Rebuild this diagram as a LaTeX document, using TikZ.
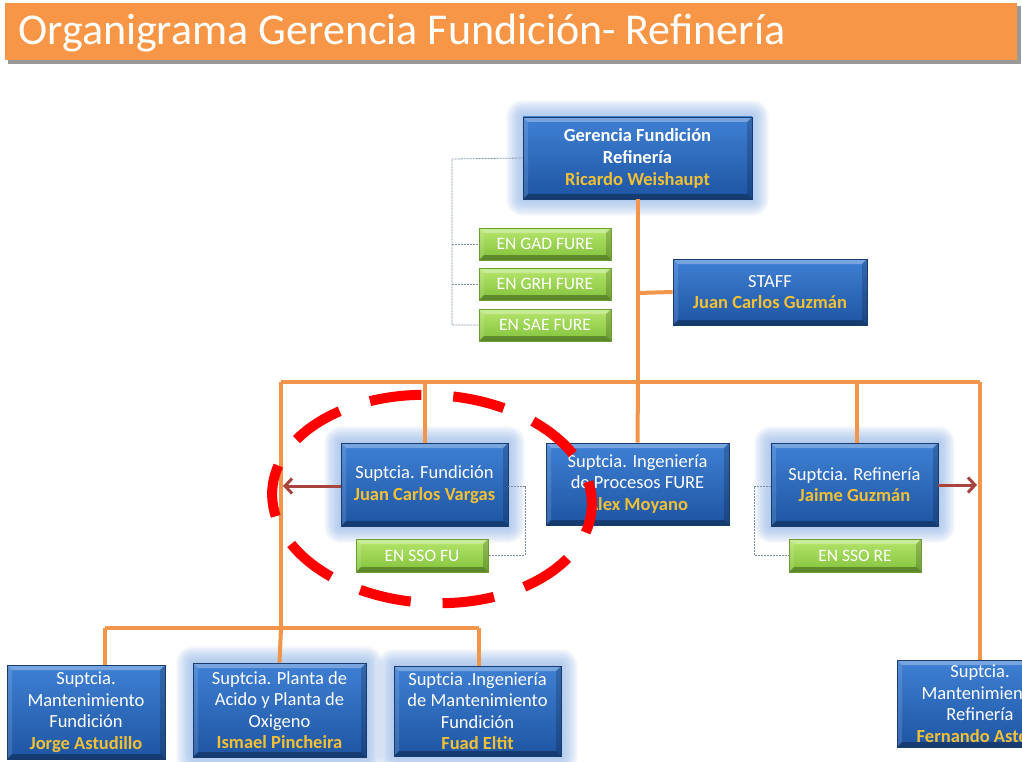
\documentclass[tikz,border=0pt]{standalone}
\usepackage{fontspec}
\setmainfont{Carlito}
\usetikzlibrary{calc,arrows.meta,backgrounds}

\definecolor{barorange}{HTML}{F79646}
\definecolor{linkorange}{HTML}{F0954A}
\definecolor{blueT}{HTML}{3F80D4}
\definecolor{blueB}{HTML}{1E55A2}
\definecolor{blueD}{HTML}{1A3B6E}
\definecolor{glowc}{HTML}{8DB2E8}
\definecolor{greenT}{HTML}{B6E66C}
\definecolor{greenB}{HTML}{82C23C}
\definecolor{greenD}{HTML}{6C9C33}
\definecolor{gold}{HTML}{F2C035}
\definecolor{arrowc}{HTML}{A8433D}
\definecolor{dashc}{HTML}{7F8EA8}

\tikzset{
  bevel/.style={path picture={
    \fill[white,opacity=0.30] (path picture bounding box.north west) -- (path picture bounding box.north east)
      -- ($(path picture bounding box.north east)+(-5pt,-5pt)$) -- ($(path picture bounding box.north west)+(5pt,-5pt)$) -- cycle;
    \fill[white,opacity=0.12] (path picture bounding box.north west) -- (path picture bounding box.south west)
      -- ($(path picture bounding box.south west)+(5pt,5pt)$) -- ($(path picture bounding box.north west)+(5pt,-5pt)$) -- cycle;
    \fill[black,opacity=0.30] (path picture bounding box.south west) -- (path picture bounding box.south east)
      -- ($(path picture bounding box.south east)+(-5pt,5pt)$) -- ($(path picture bounding box.south west)+(5pt,5pt)$) -- cycle;
    \fill[black,opacity=0.18] (path picture bounding box.north east) -- (path picture bounding box.south east)
      -- ($(path picture bounding box.south east)+(-5pt,5pt)$) -- ($(path picture bounding box.north east)+(-5pt,-5pt)$) -- cycle;
  }},
  bluebox/.style={rectangle, draw=blueD, line width=0.8pt, top color=blueT, bottom color=blueB,
    text=white, align=center, inner sep=0pt, bevel, font=\fontsize{18.5}{21.5}\selectfont},
  greenbox/.style={rectangle, draw=greenD, line width=0.8pt, top color=greenT, bottom color=greenB,
    text=white, align=center, inner sep=0pt, bevel, minimum width=132pt, minimum height=32pt,
    font=\fontsize{17.5}{20}\selectfont},
  link/.style={linkorange, line width=4pt},
  aux/.style={dashc, line width=0.8pt, dash pattern=on 2pt off 1pt},
  redarrow/.style={arrowc, line width=3pt, -{Straight Barb[length=7pt,width=15pt,line width=3pt]}},
}
\newcommand\nm[1]{\textcolor{gold}{\bfseries #1}}
\newcommand\glowbox[1]{%
  \foreach \g in {1,...,9}{%
    \pgfmathsetmacro\gd{\g*1.8}%
    \fill[glowc,opacity=0.10,rounded corners=\gd pt]
      ($(#1.south west)+(-\gd pt,-\gd pt)$) rectangle ($(#1.north east)+(\gd pt,\gd pt)$);
  }}

\begin{document}
\begin{tikzpicture}[x=1pt,y=-1pt]
  \path[use as bounding box, clip] (0,0) rectangle (1022,762);

  % title bar
  \fill[black!40] (8,6) rectangle (1021,64);
  \fill[barorange] (5,3) rectangle (1017,60);
  \node[anchor=base west, text=white, inner sep=0pt, font=\fontsize{44}{44}\selectfont] (title) at (18,45)
    {Organigrama Gerencia Fundición- Refinería};

  % management
  \node[bluebox, minimum width=229pt, minimum height=82pt, font=\bfseries\fontsize{18.5}{22}\selectfont] (ger) at (637.5,158)
    {Gerencia Fundición\\Refinería\\\nm{Ricardo Weishaupt}};
  \node[greenbox] (gad) at (545,244) {EN GAD FURE};
  \node[greenbox] (grh) at (545,284) {EN GRH FURE};
  \node[greenbox] (sae) at (545,325) {EN SAE FURE};
  \node[bluebox, minimum width=194pt, minimum height=66pt] (staff) at (770,292)
    {STAFF\\\nm{Juan Carlos Guzmán}};

  % second level
  \node[bluebox, minimum width=167pt, minimum height=83pt] (fun) at (424.5,484.5)
    {Suptcia. Fundición\\\nm{Juan Carlos Vargas}};
  \node[bluebox, minimum width=183pt, minimum height=82pt] (ing) at (637.5,484)
    {Suptcia. Ingeniería\\de Procesos FURE\\\nm{Alex Moyano}};
  \node[bluebox, minimum width=167pt, minimum height=83pt] (ref) at (854.5,484.5)
    {Suptcia. Refinería\\\nm{Jaime Guzmán}};
  \node[greenbox, minimum height=33pt] (ssofu) at (422,555.5) {EN SSO FU};
  \node[greenbox, minimum height=33pt] (ssore) at (855,555.5) {EN SSO RE};

  % third level
  \node[bluebox, minimum width=158pt, minimum height=94pt] (mf) at (86,712)
    {Suptcia.\\Mantenimiento\\Fundición\\\nm{Jorge Astudillo}};
  \node[bluebox, minimum width=173pt, minimum height=94pt] (pa) at (279.5,710)
    {Suptcia. Planta de\\Acido y Planta de\\Oxigeno\\\nm{Ismael Pincheira}};
  \node[bluebox, minimum width=167pt, minimum height=90pt] (im) at (477.5,711)
    {Suptcia .Ingeniería\\de Mantenimiento\\Fundición\\\nm{Fuad Eltit}};
  \node[bluebox, minimum width=166pt, minimum height=87pt] (mr) at (980,703.5)
    {Suptcia.\\Mantenimiento\\Refinería\\\nm{Fernando Aste\phantom{te}}};

  % white page and soft halo behind the highlighted boxes
  \begin{scope}[on background layer]
    \fill[white] (0,0) rectangle (1022,762);
    \glowbox{ger}
    \glowbox{fun}
    \glowbox{ref}
    \glowbox{pa}
    \glowbox{im}
  \end{scope}

  % junction points of the orange lines
  \coordinate (trunk) at (638,382);
  \coordinate (staffj) at (638,293);
  \coordinate (busL) at (281,382);
  \coordinate (busR) at (980,382);
  \coordinate (funj) at (425,382);
  \coordinate (refj) at (857,382);
  \coordinate (lowj) at (281,628);
  \coordinate (lowL) at (105,628);
  \coordinate (lowR) at (479,628);

  \draw[link] (ger.south -| trunk) -- (trunk);
  \draw[link] (staffj) -- (staff.west);
  \draw[link] (busL) -- (busR);
  \draw[link] (funj) -- (funj |- fun.north);
  \draw[link] (trunk) -- (ing.north);
  \draw[link] (refj) -- (refj |- ref.north);
  \draw[link] (busR) -- (mr.north);
  \draw[link] (busL) -- (lowj);
  \draw[link] (lowL) -- (lowR);
  \draw[link] (lowL) -- (lowL |- mf.north);
  \draw[link] (lowj) -- (pa.north);
  \draw[link] (lowR) -- (lowR |- im.north);

  % dotted support links
  \coordinate (gx) at (452,159);
  \draw[aux] (ger.west) -- (gx) -- (gx |- sae.west) -- (sae.west);
  \draw[aux] (gx |- gad.west) -- (gad.west);
  \draw[aux] (gx |- grh.west) -- (grh.west);
  \coordinate (fx) at (525,486);
  \draw[aux] (fun.east |- fx) -- (fx) -- (fx |- ssofu.east) -- (ssofu.east);
  \coordinate (rx) at (754,486);
  \draw[aux] (ref.west |- rx) -- (rx) -- (rx |- ssore.west) -- (ssore.west);

  % side arrows
  \coordinate (funtip) at (283,486);
  \coordinate (reftip) at (977,485);
  \draw[redarrow] (fun.west |- funtip) -- (funtip);
  \draw[redarrow] (ref.east |- reftip) -- (reftip);

  % highlight ring
  \coordinate (ringc) at (432,499);
  \draw[red, line width=10pt, dash pattern=on 52pt off 31.87pt, dash phase=26pt,
        rotate around={-3:(ringc)}] (ringc) ellipse [x radius=160, y radius=104];
\end{tikzpicture}
\end{document}
